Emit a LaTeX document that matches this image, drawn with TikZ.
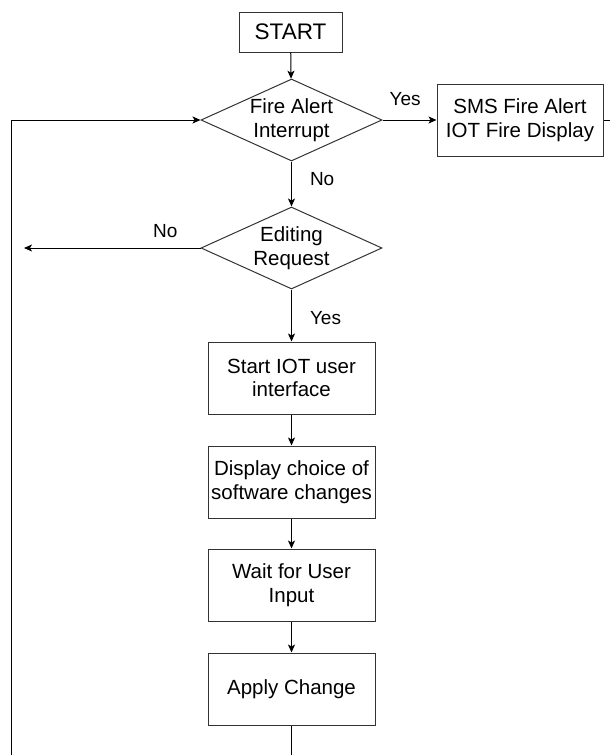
\documentclass[tikz,border=0pt]{standalone}
\usepackage{fontspec}
\setmainfont{Liberation Sans}
\usetikzlibrary{shapes.geometric,arrows.meta}

\tikzset{
  boxline/.style={draw=black!80, line width=1pt},
  procbox/.style={boxline, rectangle, minimum width=166pt, minimum height=72pt,
    inner sep=0pt, align=center, font=\fontsize{20.5}{23.5}\selectfont},
  decision/.style={boxline, diamond, aspect=2.2, minimum width=181pt,
    minimum height=82pt, inner sep=0pt, align=center,
    font=\fontsize{20.5}{23.5}\selectfont},
  flow/.style={draw=black, line width=1pt,
    -{Stealth[length=8pt,width=7pt,inset=2pt]}},
  plainflow/.style={draw=black, line width=1pt},
  edgelabel/.style={font=\fontsize{19}{22}\selectfont, inner sep=0pt}
}

\begin{document}
\begin{tikzpicture}[x=1pt,y=-1pt]
  \clip (0,0) rectangle (610,755);

  % start terminal
  \node[boxline, rectangle, minimum width=103pt, minimum height=40pt, inner sep=0pt,
        font=\fontsize{22.5}{26}\selectfont] (start) at (290.5,32) {START};

  % decisions
  \node[decision] (fire) at (291.5,120) {Fire Alert\\Interrupt};
  \node[decision] (edit) at (291.5,248) {Editing\\Request};

  % processes
  \node[procbox] (sms) at (520,120) {SMS Fire Alert\\IOT Fire Display};
  \node[procbox, minimum width=167pt] (iot) at (291.5,378) {Start IOT user\\interface};
  \node[procbox, minimum width=167pt] (disp) at (291.5,482) {Display choice of\\software changes};
  \node[procbox, minimum width=167pt] (wait) at (291.5,585) {Wait for User\\Input};
  \node[procbox, minimum width=167pt] (apply) at (291.5,689) {Apply Change};

  % free ends of connectors leaving the page
  \coordinate (smsout) at (620,120);
  \coordinate (noend) at (24,248);
  \coordinate (loopbot) at (11,770);
  \coordinate (loopcorner) at (11,120);
  \coordinate (applyout) at (291.5,765);

  % connectors
  \draw[flow] (start) -- (fire);
  \draw[flow] (fire) -- node[edgelabel, above=14pt, pos=0.42] {Yes} (sms);
  \draw[plainflow] (sms) -- (smsout);
  \draw[flow] (fire) -- node[edgelabel, right=18pt, pos=0.38] {No} (edit);
  \draw[flow] (edit.west) -- node[edgelabel, above=10pt, pos=0.2] {No} (noend);
  \draw[flow] (edit) -- node[edgelabel, right=18pt, pos=0.55] {Yes} (iot);
  \draw[flow] (iot) -- (disp);
  \draw[flow] (disp) -- (wait);
  \draw[flow] (wait) -- (apply);
  \draw[flow] (apply) -- (applyout);
  \draw[flow] (loopbot) -- (loopcorner) -- (fire.west);
\end{tikzpicture}
\end{document}
